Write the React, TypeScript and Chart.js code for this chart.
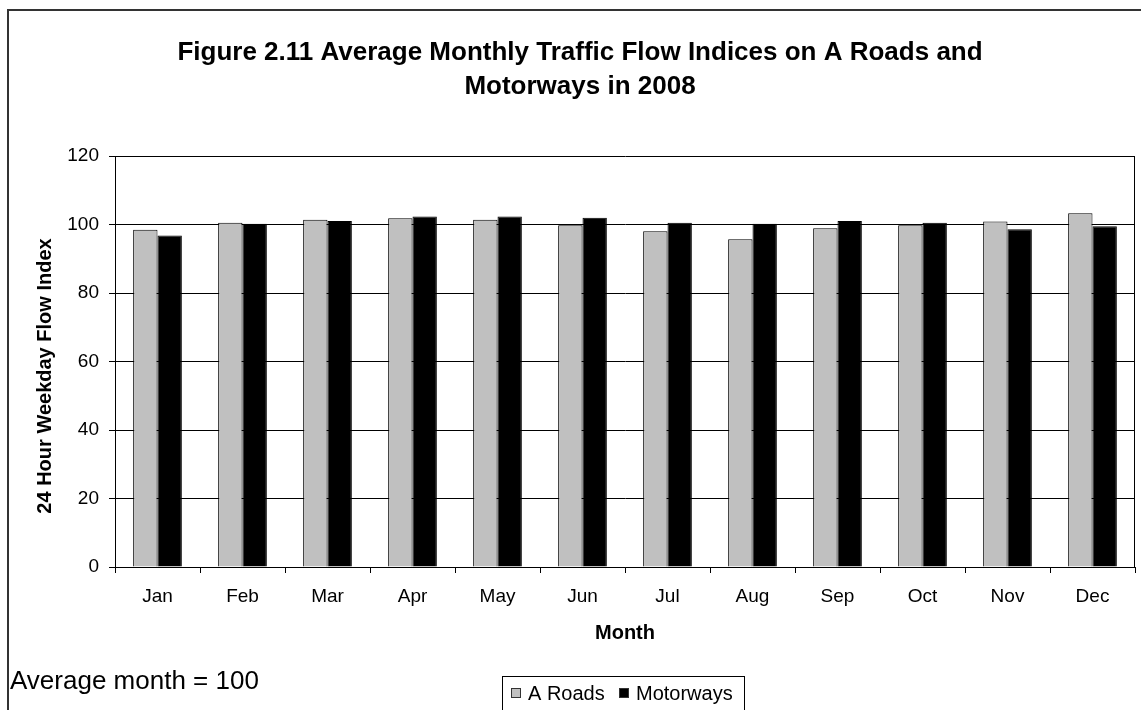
import React, { useEffect, useRef } from "react";
import { Chart, registerables } from "chart.js";

Chart.register(...registerables);

const months = ["Jan", "Feb", "Mar", "Apr", "May", "Jun", "Jul", "Aug", "Sep", "Oct", "Nov", "Dec"];
const aRoads = [98.5, 100.5, 101.4, 101.8, 101.4, 99.8, 98.0, 95.7, 98.9, 99.8, 100.9, 103.3];
const motorways = [96.8, 100.2, 101.0, 102.3, 102.3, 102.0, 100.5, 100.2, 101.0, 100.5, 98.6, 99.5];
const titleLines = ["Figure 2.11 Average Monthly Traffic Flow Indices on A Roads and", "Motorways in 2008"];
const yTitle = "24 Hour Weekday Flow Index";
const xTitle = "Month";
const note = "Average month = 100";

const FONT = "'Liberation Sans', Arial, sans-serif";

const decorPlugin = {
  id: "decor",
  afterDraw(chart: any) {
    const { ctx, chartArea } = chart;
    ctx.save();
    // outer frame
    ctx.strokeStyle = "#333";
    ctx.lineWidth = 2;
    ctx.strokeRect(8, 10, 1200, 800);
    // plot right border
    ctx.strokeStyle = "#000";
    ctx.lineWidth = 1;
    ctx.beginPath();
    ctx.moveTo(Math.round(chartArea.right) - 0.5, chartArea.top);
    ctx.lineTo(Math.round(chartArea.right) - 0.5, chartArea.bottom);
    ctx.stroke();
    // title
    ctx.fillStyle = "#000";
    ctx.textAlign = "center";
    ctx.textBaseline = "alphabetic";
    ctx.font = `bold 26px ${FONT}`;
    ctx.fillText(titleLines[0], 580, 60);
    ctx.fillText(titleLines[1], 580, 94);
    // x title
    ctx.font = `bold 20px ${FONT}`;
    ctx.fillText(xTitle, (chartArea.left + chartArea.right) / 2, 639);
    // y title
    ctx.save();
    ctx.translate(51, 376);
    ctx.rotate(-Math.PI / 2);
    ctx.fillText(yTitle, 0, 0);
    ctx.restore();
    // note
    ctx.textAlign = "left";
    ctx.font = `26px ${FONT}`;
    ctx.fillText(note, 10, 689);
    // legend
    ctx.lineWidth = 1;
    ctx.strokeStyle = "#000";
    ctx.fillStyle = "#fff";
    ctx.fillRect(502.5, 676.5, 242, 60);
    ctx.strokeRect(502.5, 676.5, 242, 60);
    ctx.font = `20px ${FONT}`;
    const ds = chart.data.datasets;
    const items = [
      { x: 511, tx: 528 },
      { x: 619, tx: 636 },
    ];
    items.forEach((it, i) => {
      ctx.fillStyle = ds[i].backgroundColor;
      ctx.fillRect(it.x + 0.5, 688.5, 9, 9);
      ctx.strokeStyle = "#333";
      ctx.strokeRect(it.x + 0.5, 688.5, 9, 9);
      ctx.fillStyle = "#000";
      ctx.fillText(ds[i].label, it.tx, 700);
    });
    ctx.restore();
  },
};

export default function App() {
  const ref = useRef<HTMLCanvasElement>(null);
  useEffect(() => {
    if (!ref.current) return;
    const chart = new Chart(ref.current, {
      type: "bar",
      data: {
        labels: months,
        datasets: [
          {
            label: "A Roads",
            data: aRoads,
            backgroundColor: "#c0c0c0",
            borderColor: "#000",
            borderWidth: 1,
            categoryPercentage: 0.573,
            barPercentage: 1,
          },
          {
            label: "Motorways",
            data: motorways,
            backgroundColor: "#000",
            borderColor: "#000",
            borderWidth: 1,
            categoryPercentage: 0.573,
            barPercentage: 1,
          },
        ],
      },
      options: {
        responsive: false,
        animation: false,
        layout: { padding: { top: 156, right: 6, left: 0, bottom: 0 } },
        plugins: {
          legend: { display: false },
          title: { display: false },
          tooltip: { enabled: false },
        },
        scales: {
          x: {
            offset: true,
            grid: {
              display: true,
              drawOnChartArea: false,
              drawTicks: true,
              tickLength: 6,
              offset: true,
              color: "#000",
              tickColor: "#000",
            },
            border: { display: true, color: "#000", width: 1 },
            ticks: {
              color: "#000",
              font: { family: FONT, size: 19 },
              padding: 12,
              maxRotation: 0,
            },
            afterFit: (scale: any) => {
              scale.height = 143;
            },
          },
          y: {
            min: 0,
            max: 120,
            ticks: {
              stepSize: 20,
              color: "#000",
              font: { family: FONT, size: 19 },
              padding: 10,
            },
            grid: {
              color: "#000",
              tickColor: "#000",
              tickLength: 6,
              lineWidth: 1,
            },
            border: { display: true, color: "#000", width: 1 },
            afterFit: (scale: any) => {
              scale.width = 115;
            },
          },
        },
      },
      plugins: [decorPlugin],
    });
    return () => chart.destroy();
  }, []);
  return (
    <div style={{ position: "absolute", left: 0, top: 0, width: 1141, height: 710, background: "#fff" }}>
      <canvas ref={ref} width={1141} height={710} style={{ display: "block" }} />
    </div>
  );
}
